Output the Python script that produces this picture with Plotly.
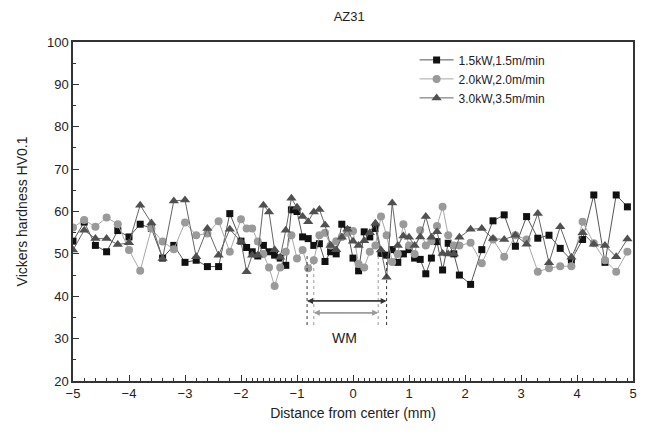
import numpy as np
import plotly.graph_objects as go

# x positions (mm)
x_left = [-5.0, -4.8, -4.6, -4.4, -4.2, -4.0, -3.8, -3.6, -3.4, -3.2, -3.0, -2.8, -2.6, -2.4, -2.2, -2.0]
x_mid = [-1.9, -1.8, -1.7, -1.6, -1.5, -1.4, -1.3, -1.2, -1.1, -1.0, -0.9, -0.8, -0.7, -0.6, -0.5,
         -0.4, -0.3, -0.2, -0.1, 0.0, 0.1, 0.2, 0.3, 0.4, 0.5, 0.6, 0.7, 0.8, 0.9, 1.0,
         1.1, 1.2, 1.3, 1.4, 1.5, 1.6, 1.7, 1.8, 1.9]
x_right = [2.1, 2.3, 2.5, 2.7, 2.9, 3.1, 3.3, 3.5, 3.7, 3.9, 4.1, 4.3, 4.5, 4.7, 4.9]
x_all = x_left + x_mid + x_right

s1_name = "1.5kW,1.5m/min"
s1 = [53, 57.5, 52, 50.5, 55.5, 54, 57, 56, 49, 52, 48, 48.5, 47, 47, 59.5, 53,
      51.5, 50.5, 49.5, 52, 50.5, 49.7, 49, 47.3, 60.4, 60, 54, 53.6, 52, 52.4, 48.2,
      50.5, 50, 57, 55.6, 49, 46, 55.2, 54, 56, 50.1, 49.7, 51, 48, 50, 51,
      49, 48.7, 45.3, 49, 52.9, 46.2, 52.5, 50, 45,
      42.8, 51, 57.8, 59.2, 51.8, 58.8, 53.7, 54.4, 51.3, 48.5, 53.4, 63.9, 48, 63.9, 61.1]

s2_name = "2.0kW,2.0m/min"
s2 = [56.2, 58, 56.4, 58.6, 57, 50.9, 46, 56, 52.9, 51.1, 57.4, 54.4, 54.8, 57.7, 50.5, 58.2,
      56, 56, 52.9, 50, 46.8, 42.4, 46.8, 50.5, 54.4, 48.9, 50.9, 46.6, 48.5, 54.4, 55,
      52, 53, 54, 55, 55.4, 47.6, 46.8, 50.5, 52, 58.8, 54.4, 48.1, 50, 57, 52,
      50, 55.6, 52, 53, 56.6, 61.1, 54.4, 52, 52,
      52.6, 47.8, 53.4, 49.3, 54.4, 53.4, 45.8, 46.6, 47.1, 47.1, 57.6, 52.5, 48.5, 45.8, 50.5]

s3_name = "3.0kW,3.5m/min"
s3 = [50.9, 55.6, 53.6, 53.6, 52.2, 52.6, 61.5, 57.3, 48.9, 62.5, 62.7, 49.3, 56, 49.7, 55.8, 52.9,
      45.8, 49.7, 49.7, 61.5, 59.9, 51, 49.2, 55.6, 63.1, 61, 58.8, 57.6, 59.9, 60.5, 56.8,
      52, 51, 53.9, 55.8, 53, 52, 53.1, 55, 57.2, 50.9, 44.5, 62, 52, 54.2, 53.9,
      52, 54, 58.8, 53.9, 55.2, 50.1, 50, 50, 53.9,
      55.8, 56, 53.6, 53.4, 54.4, 52.3, 59.5, 47.9, 56.4, 49.2, 55, 52.3, 52, 49.3, 53.5]

# WM boundaries (mm) and arrow heights (HV)
wm_left = [-0.82, -0.70]
wm_right = [0.60, 0.45]
wm_arrow_y = [38.9, 36.1]
wm_colors = ["#333333", "#999999"]
wm_label = "WM"

font_family = "Liberation Sans, Arial, sans-serif"

fig = go.Figure()
fig.add_trace(go.Scatter(x=x_all, y=s1, name=s1_name, mode="lines+markers",
                         line=dict(color="#555555", width=1),
                         marker=dict(symbol="square", size=7, color="#111111",
                                     line=dict(width=0))))
fig.add_trace(go.Scatter(x=x_all, y=s2, name=s2_name, mode="lines+markers",
                         line=dict(color="#a8a8a8", width=1),
                         marker=dict(symbol="circle", size=8, color="#9a9a9a",
                                     line=dict(width=0))))
fig.add_trace(go.Scatter(x=x_all, y=s3, name=s3_name, mode="lines+markers",
                         line=dict(color="#666666", width=1),
                         marker=dict(symbol="triangle-up", size=9, color="#505050",
                                     line=dict(width=0))))

# WM dashed boundaries and arrows
for xl, xr, ya, c in zip(wm_left, wm_right, wm_arrow_y, wm_colors):
    for xv in (xl, xr):
        fig.add_shape(type="line", x0=xv, x1=xv, y0=33.2, y1=50,
                      line=dict(color=c, width=1, dash="dot"))
    fig.add_annotation(x=xl, y=ya, ax=xr, ay=ya, xref="x", yref="y", axref="x", ayref="y",
                       showarrow=True, arrowhead=2, arrowsize=1, arrowwidth=1.2,
                       arrowcolor=c, text="", standoff=0, startstandoff=0)
    fig.add_annotation(x=xr, y=ya, ax=xl, ay=ya, xref="x", yref="y", axref="x", ayref="y",
                       showarrow=True, arrowhead=2, arrowsize=1, arrowwidth=1.2,
                       arrowcolor=c, text="", standoff=0, startstandoff=0)
fig.add_annotation(x=-0.16, y=30.2, text=wm_label, showarrow=False,
                   font=dict(size=14, color="#222222", family=font_family))

minor_x = sorted(set([round(v, 2) for v in np.arange(-5, -2, 0.2)] +
                     [round(v, 2) for v in np.arange(-2, 2.001, 0.1)] +
                     [round(v, 2) for v in np.arange(2.1, 5, 0.2)]))

fig.update_layout(
    width=650, height=435,
    margin=dict(l=65, r=25, t=34, b=62),
    paper_bgcolor="white", plot_bgcolor="white",
    font=dict(family=font_family, size=12, color="#222222"),
    title=dict(text="AZ31", x=0.525, xanchor="center", y=0.99, yanchor="top",
               font=dict(size=13, family=font_family, color="#222222")),
    showlegend=True,
    legend=dict(x=0.61, y=0.99, xanchor="left", yanchor="top",
                bgcolor="rgba(0,0,0,0)", font=dict(size=12, family=font_family),
                itemwidth=34, tracegroupgap=0),
    xaxis=dict(range=[-5, 5], dtick=1, tick0=-5, showgrid=False, zeroline=False,
               showline=True, linecolor="#333333", linewidth=1.5, mirror=True,
               ticks="inside", ticklen=6, tickcolor="#333333",
               minor=dict(tickvals=minor_x, ticks="inside", ticklen=3, tickcolor="#333333"),
               title=dict(text="Distance from center (mm)", font=dict(size=14), standoff=8),
               tickfont=dict(size=13)),
    yaxis=dict(range=[20, 100], dtick=10, showgrid=False, zeroline=False,
               showline=True, linecolor="#333333", linewidth=1.5, mirror=True,
               ticks="inside", ticklen=6, tickcolor="#333333",
               minor=dict(dtick=5, ticks="inside", ticklen=3, tickcolor="#333333"),
               title=dict(text="Vickers hardness HV0.1", font=dict(size=14), standoff=16),
               tickfont=dict(size=13)),
)

fig.write_html("out.html")
